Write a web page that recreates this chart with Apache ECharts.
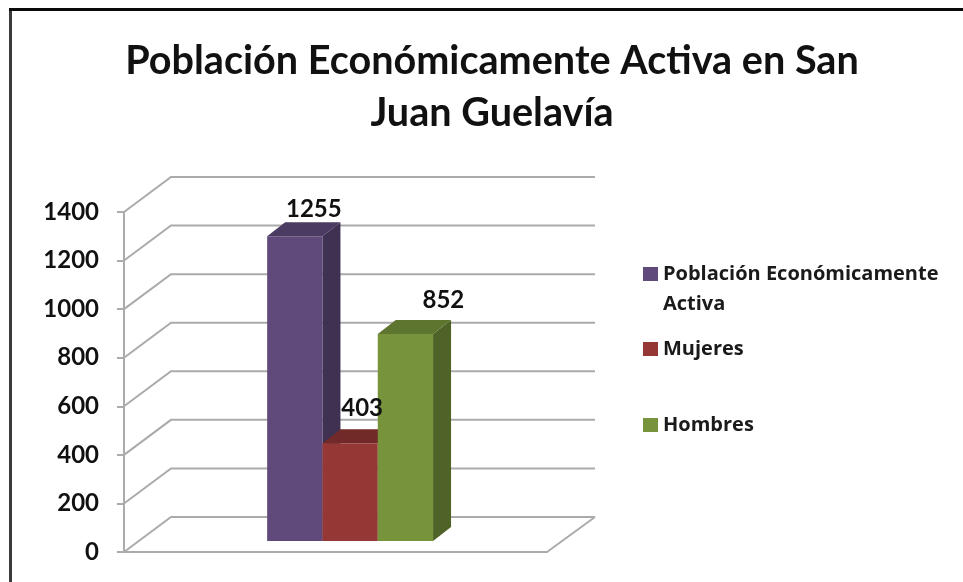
<!DOCTYPE html>
<html>
<head>
<meta charset="utf-8">
<title>Población Económicamente Activa</title>
<script src="https://cdn.jsdelivr.net/npm/echarts@6/dist/echarts.min.js"></script>
<style>
  html, body { margin: 0; padding: 0; background: #fff; }
  #chart { width: 963px; height: 582px; }
</style>
</head>
<body>
<div id="chart"></div>
<script>
const categories = ['Total']
const seriesNames = ['Población Económicamente Activa', 'Mujeres', 'Hombres']
const seriesValues = [1255, 403, 852]
const yTicks = [0, 200, 400, 600, 800, 1000, 1200, 1400]

const fontName = 'Lato'
const frontColors = ['#604a7b', '#953735', '#77933c']
const topColors = ['#4b3a62', '#722a28', '#5e7530']
const sideColors = ['#3f3151', '#632523', '#4f6228']
const gridColor = '#ababab'

// depth of the fake 3d box, in px
const wallDx = 47
const wallDy = 35
const barDx = 18
const barDy = 14
const barInsetX = 14.6
const barInsetY = 11
const barWidth = 55.3
// where each value label sits, relative to the top of the bar front
const labelNudge = [[19, -27], [12, -35], [38, -34]]

function renderWall(params, api) {
  const p = api.coord([categories[0], api.value(0)])
  const left = params.coordSys.x
  const right = left + params.coordSys.width
  const children = [{
    type: 'polyline',
    shape: { points: [[left, p[1]], [left + wallDx, p[1] - wallDy], [right + wallDx + 1, p[1] - wallDy]] },
    style: { fill: null, stroke: gridColor, lineWidth: 2 },
  }]
  if (api.value(0) === 0) {
    children.push({
      type: 'line',
      shape: { x1: right, y1: p[1], x2: right + wallDx + 1, y2: p[1] - wallDy },
      style: { stroke: gridColor, lineWidth: 2 },
    })
  }
  return { type: 'group', children }
}

function renderBar(params, api) {
  const i = params.seriesIndex - 1
  const center = api.coord([api.value(0), 0])
  const base = center[1] - barInsetY
  const top = api.coord([api.value(0), api.value(1)])[1] - barInsetY
  const x0 = center[0] + barInsetX + (i - 1.5) * barWidth
  const x1 = x0 + barWidth
  const nudge = labelNudge[i]
  return {
    type: 'group',
    children: [
      {
        type: 'polygon',
        shape: { points: [[x1, top], [x1 + barDx, top - barDy], [x1 + barDx, base - barDy], [x1, base]] },
        style: { fill: sideColors[i] },
      },
      {
        type: 'polygon',
        shape: { points: [[x0, top], [x0 + barDx, top - barDy], [x1 + barDx, top - barDy], [x1, top]] },
        style: { fill: topColors[i] },
      },
      {
        type: 'rect',
        shape: { x: x0, y: top, width: barWidth, height: base - top },
        style: { fill: frontColors[i] },
      },
      {
        type: 'text',
        z2: 100,
        style: {
          x: (x0 + x1) / 2 + nudge[0],
          y: top + nudge[1],
          text: String(api.value(1)),
          fill: '#111',
          font: 'bold 24px ' + fontName,
          align: 'center',
          verticalAlign: 'middle',
        },
      },
    ],
  }
}

const chart = echarts.init(document.getElementById('chart'))

function legendItem(i, top, icon, itemHeight) {
  return {
    show: true,
    left: 643,
    top: top,
    orient: 'vertical',
    selectedMode: false,
    data: [{ name: seriesNames[i], icon: icon }],
    itemWidth: 15,
    itemHeight: itemHeight,
    itemGap: 0,
    padding: 0,
    formatter: (n) => n.replace('Económicamente ', 'Económicamente\n'),
    textStyle: {
      fontFamily: 'Open Sans',
      fontWeight: 'bold',
      fontSize: 20,
      color: '#1a1a1a',
      lineHeight: 30,
    },
  }
}

chart.setOption({
  animation: false,
  backgroundColor: '#fff',
  title: {
    text: 'Población Económicamente Activa en San\nJuan Guelavía',
    left: 487,
    top: 30,
    textAlign: 'center',
    textStyle: {
      fontFamily: fontName,
      fontWeight: 'bold',
      fontSize: 39.6,
      lineHeight: 52,
      color: '#111',
    },
  },
  legend: [
    // tall icon with a blank lower part, so the square lines up with the first text line
    legendItem(0, 259, 'path://M0 0H15V14H0Z M0 44L0 44Z', 44),
    legendItem(1, 334, 'rect', 14),
    legendItem(2, 410, 'rect', 14),
  ],
  grid: { left: 124, top: 212, right: 416, bottom: 30, containLabel: false },
  xAxis: {
    type: 'category',
    data: categories,
    axisLine: { show: true, lineStyle: { color: gridColor, width: 2 } },
    axisTick: { show: false },
    axisLabel: { show: false },
  },
  yAxis: {
    type: 'value',
    min: 0,
    max: 1400,
    interval: 200,
    axisLine: { show: true, lineStyle: { color: gridColor, width: 2 } },
    axisTick: { show: true, length: 7, lineStyle: { color: gridColor, width: 2 } },
    splitLine: { show: false },
    axisLabel: {
      fontFamily: fontName,
      fontWeight: 'bold',
      fontSize: 24,
      color: '#111',
      margin: 25,
      formatter: (v) => String(v),
    },
  },
  graphic: [
    { type: 'rect', shape: { x: 9, y: 9, width: 3, height: 573 }, style: { fill: '#3a3a3a' } },
    { type: 'rect', shape: { x: 9, y: 8, width: 954, height: 3 }, style: { fill: '#0a0a0a' } },
  ],
  series: [
    {
      type: 'custom',
      name: 'walls',
      data: yTicks.map((t) => [t]),
      encode: { y: 0 },
      renderItem: renderWall,
      silent: true,
    },
  ].concat(seriesNames.map((name, i) => ({
    type: 'custom',
    name: name,
    itemStyle: { color: frontColors[i] },
    data: [[categories[0], seriesValues[i]]],
    encode: { x: 0, y: 1 },
    renderItem: renderBar,
  }))),
})

window.addEventListener('resize', () => {
  chart.resize()
})
</script>
</body>
</html>
